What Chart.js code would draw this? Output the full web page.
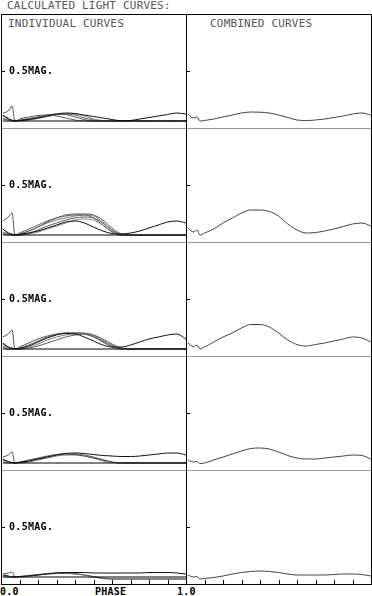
<!DOCTYPE html>
<html lang="en">
<head>
<meta charset="UTF-8">
<title>Calculated light curves</title>
<script src="https://cdn.jsdelivr.net/npm/chart.js"></script>
<style>
    body { margin: 0; background: #fff; }
    #wrap { position: relative; width: 372px; height: 596px; overflow: hidden; }
    #wrap canvas { position: absolute; }
    .txt {
        position: absolute;
        font-family: 'DejaVu Sans Mono', monospace;
        font-size: 11px;
        line-height: 11px;
        color: #555;
        letter-spacing: 0.2px;
        white-space: nowrap;
    }
    .mag { font-size: 10px; line-height: 10px; font-weight: bold; color: #000; letter-spacing: 0.3px; }
    .ax { font-size: 10px; line-height: 10px; font-weight: bold; color: #000; }
    .ln { position: absolute; background: #000; z-index: 5; }
    .sep { position: absolute; background: #999; z-index: 4; height: 1px; }
</style>
</head>
<body>
<div id="wrap">
    <div class="txt" style="left:7px;top:0px">CALCULATED LIGHT CURVES:</div>
    <div class="txt" style="left:8px;top:18px">INDIVIDUAL CURVES</div>
    <div class="txt" style="left:210px;top:18px">COMBINED CURVES</div>
    <div class="txt ax" style="left:0px;top:587px">0.0</div>
    <div class="txt ax" style="left:95px;top:587px">PHASE</div>
    <div class="txt ax" style="left:177px;top:587px">1.0</div>
</div>

<script>
// phase points shared by every curve
const phase = [0.01, 0.04, 0.06, 0.075, 0.1, 0.15, 0.2, 0.25, 0.3, 0.35, 0.4, 0.45,
               0.5, 0.55, 0.6, 0.65, 0.7, 0.75, 0.8, 0.85, 0.9, 0.95, 1.0];
const baseline = [0, 0];
const baselinePhase = [0.01, 1.0];
const magTick = 0.5;
const phaseTicks = [0.1, 0.2, 0.3, 0.4, 0.5, 0.6, 0.7, 0.8, 0.9];

// individual curves, first one of each row is the dark one
const indiv1 = [
    [0.06,0.02,0.01,0.0,0.005,0.015,0.03,0.05,0.07,0.08,0.075,0.06,0.045,0.03,0.015,0.003,0.005,0.02,0.035,0.05,0.065,0.08,0.07],
    [0.08,0.10,0.15,0.0,0.005,0.02,0.04,0.06,0.07,0.065,0.04,0.015,0,0,0,0,0,0,0,0,0,0,0],
    [0.05,0.03,0,0,0.01,0.025,0.04,0.055,0.065,0.07,0.06,0.03,0.01,0,0,0,0,0,0,0,0,0,0],
    [0.03,0.01,0,0,0,0.01,0.025,0.045,0.06,0.07,0.07,0.05,0.02,0.005,0,0,0,0,0,0,0,0,0],
    [0.02,0.01,0.005,0,0.02,0.04,0.055,0.06,0.05,0.03,0.01,0,0,0,0,0,0,0,0,0,0,0,0]
];
const indiv2 = [
    [0.06,0.02,0.01,0,0.005,0.02,0.04,0.07,0.1,0.13,0.14,0.12,0.08,0.04,0.015,0.01,0.02,0.04,0.07,0.1,0.13,0.14,0.12],
    [0.14,0.18,0.22,0,0.01,0.04,0.08,0.13,0.17,0.2,0.21,0.21,0.2,0.15,0.07,0.01,0,0,0,0,0,0,0],
    [0.06,0.02,0,0,0.02,0.06,0.1,0.14,0.17,0.19,0.2,0.2,0.17,0.1,0.03,0,0,0,0,0,0,0,0],
    [0.03,0.01,0,0,0.01,0.04,0.08,0.12,0.15,0.17,0.19,0.2,0.19,0.13,0.05,0.01,0,0,0,0,0,0,0],
    [0.02,0.01,0,0,0,0.02,0.05,0.09,0.12,0.15,0.17,0.18,0.17,0.12,0.05,0,0,0,0,0,0,0,0],
    [0.01,0,0,0,0,0.01,0.03,0.06,0.09,0.12,0.15,0.16,0.15,0.1,0.04,0,0,0,0,0,0,0,0]
];
const indiv3 = [
    [0.06,0.02,0.01,0,0.005,0.03,0.07,0.11,0.14,0.155,0.15,0.12,0.08,0.04,0.02,0.02,0.04,0.07,0.1,0.12,0.14,0.15,0.1],
    [0.12,0.15,0.19,0,0.02,0.06,0.1,0.13,0.15,0.16,0.16,0.15,0.12,0.07,0.02,0,0,0,0,0,0,0,0],
    [0.05,0.02,0,0,0.01,0.04,0.08,0.12,0.145,0.16,0.16,0.155,0.13,0.08,0.03,0.005,0,0,0,0,0,0,0],
    [0.03,0.01,0,0,0,0.02,0.05,0.09,0.12,0.14,0.155,0.16,0.14,0.09,0.04,0.01,0,0,0,0,0,0,0],
    [0.02,0,0,0,0,0.01,0.03,0.06,0.09,0.12,0.14,0.15,0.14,0.1,0.05,0.01,0,0,0,0,0,0,0]
];
const indiv4 = [
    [0.04,0.015,0.005,0,0.005,0.02,0.04,0.06,0.08,0.095,0.1,0.095,0.085,0.075,0.07,0.065,0.065,0.07,0.08,0.09,0.1,0.1,0.08],
    [0.06,0.08,0.11,0,0.01,0.03,0.05,0.07,0.085,0.09,0.085,0.07,0.05,0.03,0.01,0,0,0,0,0,0,0,0],
    [0.03,0.01,0,0,0.005,0.02,0.04,0.06,0.08,0.09,0.09,0.08,0.06,0.035,0.01,0,0,0,0,0,0,0,0],
    [0.02,0,0,0,0,0.01,0.03,0.05,0.07,0.08,0.08,0.07,0.05,0.02,0.005,0,0,0,0,0,0,0,0]
];
const indiv5 = [
    [0.02,0.01,0,0,0.005,0.01,0.02,0.03,0.04,0.045,0.045,0.045,0.04,0.04,0.04,0.04,0.04,0.04,0.045,0.045,0.045,0.04,0.03],
    [0.03,0.04,0.05,0,0.005,0.015,0.025,0.035,0.04,0.04,0.035,0.02,0.005,-0.01,-0.02,-0.02,-0.02,-0.02,-0.02,-0.02,-0.02,-0.02,-0.02],
    [0.01,0,0,0,0,0.01,0.02,0.03,0.035,0.035,0.03,0.02,0,-0.015,-0.02,-0.02,-0.02,-0.02,-0.02,-0.02,-0.02,-0.02,-0.02]
];

// combined curves
const combined1 = [0.07,0.03,0.04,0.0,0.005,0.02,0.04,0.06,0.08,0.09,0.088,0.08,0.06,0.035,0.01,0.005,0.01,0.02,0.035,0.05,0.07,0.08,0.06];
const combined2 = [0.07,0.03,0.05,0.0,0.02,0.06,0.12,0.17,0.22,0.25,0.25,0.235,0.19,0.11,0.05,0.02,0.025,0.04,0.06,0.085,0.11,0.12,0.09];
const combined3 = [0.06,0.025,0.04,0.0,0.02,0.07,0.12,0.16,0.21,0.245,0.245,0.22,0.16,0.09,0.045,0.03,0.045,0.06,0.08,0.1,0.12,0.11,0.07];
const combined4 = [0.03,0.01,0.015,-0.005,0,0.03,0.06,0.09,0.12,0.145,0.15,0.14,0.11,0.075,0.05,0.04,0.04,0.05,0.06,0.07,0.08,0.075,0.04];
const combined5 = [0.02,0,0.005,-0.02,-0.015,-0.005,0.01,0.03,0.045,0.055,0.06,0.055,0.045,0.03,0.02,0.02,0.02,0.02,0.025,0.03,0.03,0.025,0.01];

const individual = [indiv1, indiv2, indiv3, indiv4, indiv5];
const combined = [combined1, combined2, combined3, combined4, combined5];

const wrap = document.getElementById('wrap');
const top0 = 14, rowH = 114, panelW = 185;
const greys = ['#111', '#555', '#666', '#777', '#5a5a5a', '#888'];

function pts(xs, ys) {
    return ys.map((v, i) => ({ x: xs[i], y: v }));
}

// small ticks drawn off the chart's own scales
const tickPlugin = {
    id: 'ticks',
    afterDraw(chart, args, opts) {
        const ctx = chart.ctx;
        const xs = chart.scales.x, ys = chart.scales.y;
        const area = chart.chartArea;
        ctx.save();
        ctx.strokeStyle = '#000';
        ctx.lineWidth = 1;
        ctx.beginPath();
        const yy = Math.round(ys.getPixelForValue(magTick)) + 0.5;
        ctx.moveTo(area.left, yy);
        ctx.lineTo(area.left + 4, yy);
        if (opts.bottom) {
            phaseTicks.forEach(p => {
                const xx = Math.round(xs.getPixelForValue(p)) + 0.5;
                ctx.moveTo(xx, area.bottom);
                ctx.lineTo(xx, area.bottom - 4);
            });
        }
        ctx.stroke();
        ctx.restore();
    }
};

function makeChart(left, top, datasets, bottom) {
    const cv = document.createElement('canvas');
    cv.width = panelW;
    cv.height = rowH;
    cv.style.left = left + 'px';
    cv.style.top = top + 'px';
    wrap.appendChild(cv);
    new Chart(cv.getContext('2d'), {
        type: 'line',
        data: { datasets: datasets },
        options: {
            responsive: false,
            animation: false,
            layout: { padding: 0 },
            plugins: { legend: { display: false }, tooltip: { enabled: false }, ticks: { bottom: bottom } },
            elements: { point: { radius: 0 }, line: { cubicInterpolationMode: 'monotone' } },
            scales: {
                x: { type: 'linear', min: 0, max: 1, display: false },
                y: { min: -0.07, max: 1.07, display: false }
            }
        },
        plugins: [tickPlugin]
    });
}

for (let r = 0; r < 5; r++) {
    const top = top0 + r * rowH;
    const last = r === 4;
    const ds = [{ data: pts(baselinePhase, baseline), borderColor: '#000', borderWidth: 1 }];
    individual[r].forEach((c, i) => {
        ds.push({ data: pts(phase, c), borderColor: greys[i], borderWidth: 1 });
    });
    makeChart(1, top, ds, last);
    makeChart(186, top, [{ data: pts(phase, combined[r]), borderColor: '#444', borderWidth: 1 }], last);

    const lab = document.createElement('div');
    lab.className = 'txt mag';
    lab.style.left = '9px';
    lab.style.top = (top + 52) + 'px';
    lab.textContent = '0.5MAG.';
    wrap.appendChild(lab);

    if (r > 0) {
        const s = document.createElement('div');
        s.className = 'sep';
        s.style.left = '1px';
        s.style.width = '371px';
        s.style.top = top + 'px';
        wrap.appendChild(s);
    }
}

// outer frame
[[1, top0, 1, 5 * rowH + 1], [186, top0, 1, 5 * rowH + 1], [371, top0, 1, 5 * rowH + 1],
 [1, top0, 371, 1], [1, top0 + 5 * rowH, 371, 1]].forEach(b => {
    const d = document.createElement('div');
    d.className = 'ln';
    d.style.left = b[0] + 'px';
    d.style.top = b[1] + 'px';
    d.style.width = b[2] + 'px';
    d.style.height = b[3] + 'px';
    wrap.appendChild(d);
});
</script>
</body>
</html>
